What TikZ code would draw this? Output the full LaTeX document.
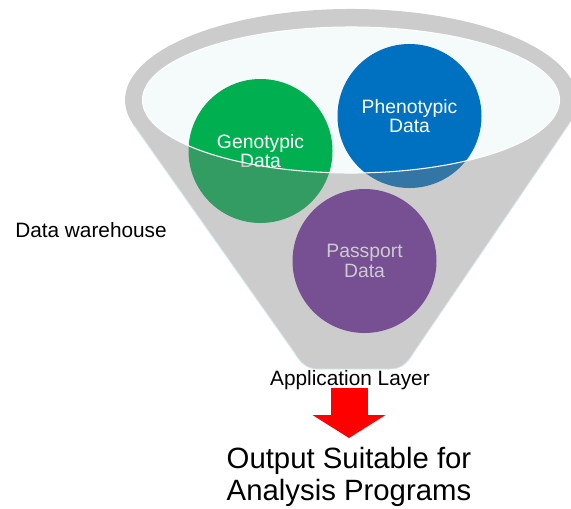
\documentclass[tikz,border=0pt]{standalone}
\usepackage{fontspec}
\setmainfont{Liberation Sans}
\usepackage{xcolor}
\usetikzlibrary{arrows.meta}

\definecolor{genogreen}{HTML}{00B050}
\definecolor{phenoblue}{HTML}{0070C0}
\definecolor{passpurple}{HTML}{7030A0}
\definecolor{funnelgray}{HTML}{808080}
\definecolor{openfill}{HTML}{F5FAFB}
\definecolor{funneledge}{HTML}{D3E6E8}

\begin{document}
\begin{tikzpicture}[x=0.75pt,y=0.75pt,yscale=-1,xscale=1,
  datacircle/.style={circle, minimum size=108pt, inner sep=0pt, text=white, align=center,
    font=\fontsize{14.5}{14.6}\selectfont},
  plainlabel/.style={inner sep=0pt, text=black, font=\fontsize{15.6}{18}\selectfont},
  bigarrow/.style={draw=red, line width=27.75pt, -{Triangle[width=54pt, length=17.25pt, fill=red]}}]
\useasboundingbox (0,0) rectangle (571,508);

%Opening of the funnel
\fill [color=openfill] (351,100) ellipse [x radius=208.5, y radius=73];

%Circles
\node [datacircle, fill=genogreen] (geno) at (260.5,151) {Genotypic\\Data};
\node [datacircle, fill=phenoblue] (pheno) at (409.5,116) {Phenotypic\\Data};
\node [datacircle, fill=passpurple] (pass) at (364.5,261) {Passport\\Data};

%Funnel body, seen through the front
\fill [color=funnelgray, fill opacity=0.4, even odd rule]
  (133.8,125.1) -- (294,352) .. controls (300,362) and (306,369) .. (318,369) -- (390,369)
  .. controls (402,369) and (408,362) .. (414,352) -- (568.8,124.3)
  arc [start angle=15.5, end angle=-196, x radius=226, y radius=91] -- cycle
  (351,100) ellipse [x radius=208.5, y radius=73];
\draw [color=funneledge, line width=0.6]
  (133.8,125.1) -- (294,352) .. controls (300,362) and (306,369) .. (318,369) -- (390,369)
  .. controls (402,369) and (408,362) .. (414,352) -- (568.8,124.3);
%Rim of the opening
\draw [color=white, line width=0.8] (351,100) ellipse [x radius=208.5, y radius=73];

% Text Node
\node [plainlabel, anchor=west] (warehouse) at (15,230) {Data warehouse};
% Text Node
\node [plainlabel, anchor=north] (applayer) at (350,370) {Application Layer};
% Text Node
\node [inner sep=0pt, align=center, font=\fontsize{22}{24}\selectfont] (output) at (349,477) {Output Suitable for\\Analysis Programs};

%Red arrow
\coordinate (arrtop) at (349,388);
\coordinate (arrtip) at (349,438);
\draw [bigarrow] (arrtop) -- (arrtip);

\end{tikzpicture}
\end{document}
